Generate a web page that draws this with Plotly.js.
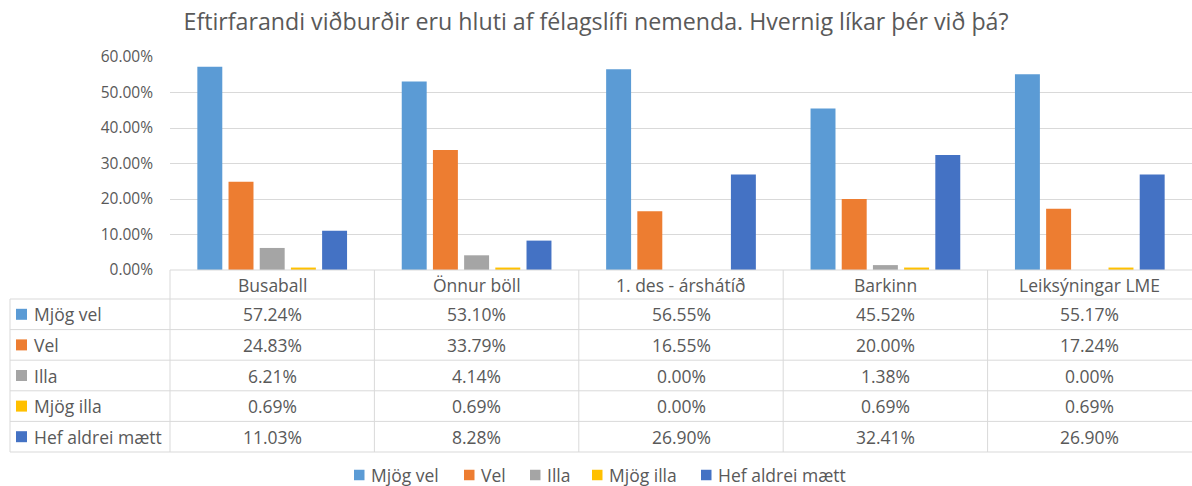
<!DOCTYPE html>
<html>
<head>
<meta charset="utf-8">
<script src="https://cdn.plot.ly/plotly-3.0.1.min.js"></script>
<style>
html,body{margin:0;padding:0;background:#fff;overflow:hidden;}
#chart{width:1192px;height:486px;}
</style>
</head>
<body>
<div id="chart"></div>
<script>
const categories = ['Busaball', 'Önnur böll', '1. des - árshátíð', 'Barkinn', 'Leiksýningar LME'];
const seriesNames = ['Mjög vel', 'Vel', 'Illa', 'Mjög illa', 'Hef aldrei mætt'];
const mjogVel = [57.24, 53.10, 56.55, 45.52, 55.17];
const vel = [24.83, 33.79, 16.55, 20.00, 17.24];
const illa = [6.21, 4.14, 0.00, 1.38, 0.00];
const mjogIlla = [0.69, 0.69, 0.00, 0.69, 0.69];
const hefAldrei = [11.03, 8.28, 26.90, 32.41, 26.90];
const yTicks = [0, 10, 20, 30, 40, 50, 60];

const seriesValues = [mjogVel, vel, illa, mjogIlla, hefAldrei];
const colors = ['#5B9BD5', '#ED7D31', '#A5A5A5', '#FFC000', '#4472C4'];

const W = 1192, H = 486;
const L = 170, R = 0, T = 57, B = 216;
const pw = W - L - R, ph = H - T - B;
const px = x => (x - L) / pw;
const py = y => (H - B - y) / ph;

const font = 'Open Sans, Noto Sans, sans-serif';
const textColor = '#595959';
const gridColor = '#D9D9D9';
const tableFontSize = 17.5;

const traces = seriesNames.map((name, i) => ({
  type: 'bar',
  name: name,
  x: categories,
  y: seriesValues[i],
  marker: {color: colors[i], line: {width: 0}},
  hoverinfo: 'x+y+name',
  showlegend: false
}));

// table geometry
const tableTop = 270, headerBottom = 299, rowH = 30.6, tableLeft = 10;
const rowTops = seriesNames.map((_, i) => headerBottom + i * rowH);
const tableBottom = headerBottom + seriesNames.length * rowH;

const shapes = [];
const line = (x0, y0, x1, y1) => shapes.push({
  type: 'line', xref: 'paper', yref: 'paper',
  x0: x0, y0: y0, x1: x1, y1: y1,
  line: {color: gridColor, width: 1}
});
line(0, py(tableTop), 1, py(tableTop));
[headerBottom, ...rowTops.slice(1), tableBottom].forEach(y => line(px(tableLeft), py(y), 1, py(y)));
line(px(tableLeft), py(headerBottom), px(tableLeft), py(tableBottom));
line(0, py(tableTop), 0, py(tableBottom));
for (let i = 1; i < categories.length; i++) line(i / categories.length, py(tableTop), i / categories.length, py(tableBottom));

const square = (x, cy, s, color) => shapes.push({
  type: 'rect', xref: 'paper', yref: 'paper',
  x0: px(x), x1: px(x + s), y0: py(cy + s / 2), y1: py(cy - s / 2),
  fillcolor: color, line: {width: 0}
});

const annotations = [];
const label = (x, y, text, anchor) => annotations.push({
  xref: 'paper', yref: 'paper', x: x, y: y, text: text, showarrow: false,
  xanchor: anchor, yanchor: 'middle',
  font: {family: font, size: tableFontSize, color: textColor}
});

categories.forEach((c, j) => label((j + 0.5) / categories.length, py((tableTop + headerBottom) / 2), c, 'center'));
seriesNames.forEach((name, i) => {
  const cy = rowTops[i] + rowH / 2;
  square(16, cy, 11, colors[i]);
  label(px(32), py(cy), name, 'left');
  categories.forEach((c, j) => label((j + 0.5) / categories.length, py(cy), seriesValues[i][j].toFixed(2) + '%', 'center'));
});

// bottom legend (drawn from series names and colours)
const legendY = 475;
const legendX = [354, 464, 530, 592, 701];
seriesNames.forEach((name, i) => {
  square(legendX[i], legendY, 10.5, colors[i]);
  label(px(legendX[i] + 15), py(legendY), name, 'left');
});

const layout = {
  width: W, height: H,
  margin: {l: L, r: R, t: T, b: B, pad: 0},
  paper_bgcolor: '#ffffff', plot_bgcolor: '#ffffff',
  title: {
    text: 'Eftirfarandi viðburðir eru hluti af félagslífi nemenda. Hvernig líkar þér við þá?',
    font: {family: font, size: 23.2, color: textColor},
    x: 0.5, xref: 'container', xanchor: 'center',
    y: 1 - 22 / H, yref: 'container', yanchor: 'middle'
  },
  barmode: 'group',
  bargap: 0.237,
  bargroupgap: 0.2,
  xaxis: {
    type: 'category', range: [-0.5, categories.length - 0.5],
    showticklabels: false, showgrid: false, zeroline: false, showline: false, ticks: ''
  },
  yaxis: {
    range: [0, 60], tickvals: yTicks, ticktext: yTicks.map(v => v.toFixed(2) + '%'),
    showgrid: true, gridcolor: gridColor, gridwidth: 1,
    zeroline: false, showline: false, ticks: '',
    tickfont: {family: font, size: 15.5, color: textColor}, ticklabelstandoff: 16
  },
  showlegend: false,
  shapes: shapes,
  annotations: annotations
};

Plotly.newPlot('chart', traces, layout, {displayModeBar: false, staticPlot: true});
</script>
</body>
</html>
